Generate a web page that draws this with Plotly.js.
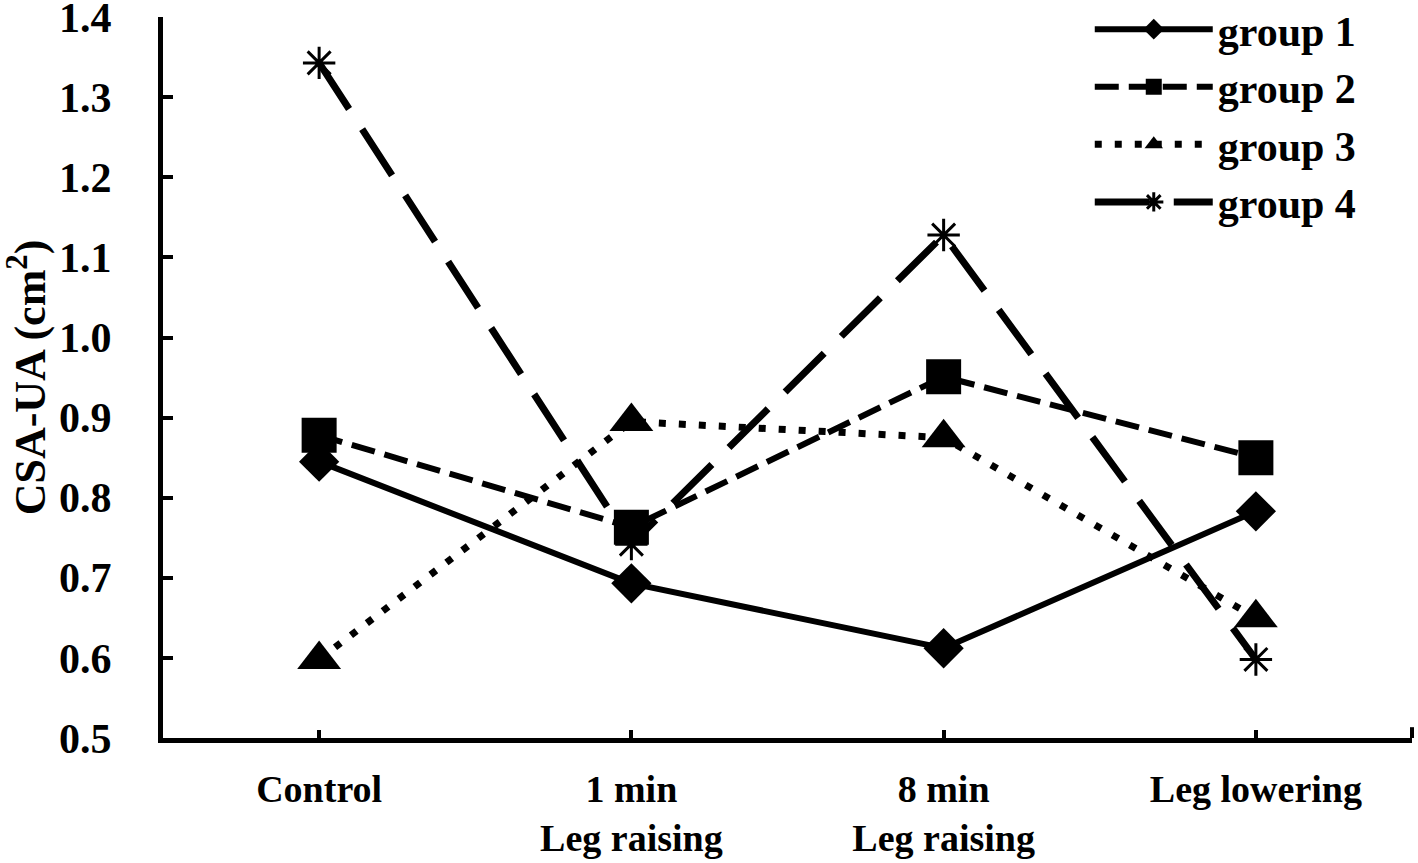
<!DOCTYPE html>
<html>
<head>
<meta charset="utf-8">
<script src="https://cdn.plot.ly/plotly-3.0.1.min.js"></script>
<style>html,body{margin:0;padding:0;background:#fff;}#chart{width:1418px;height:863px;}</style>
</head>
<body>
<div id="chart"></div>
<script>
const categories = ["Control", "1 min<br>Leg raising", "8 min<br>Leg raising", "Leg lowering"];
const seriesNames = ["group 1", "group 2", "group 3", "group 4"];
const group1 = [0.845, 0.693, 0.612, 0.783];
const group2 = [0.878, 0.763, 0.951, 0.850];
const group3 = [0.598, 0.895, 0.875, 0.650];
const group4 = [1.343, 0.742, 1.128, 0.598];
const yTicks = [0.5, 0.6, 0.7, 0.8, 0.9, 1.0, 1.1, 1.2, 1.3, 1.4];
const yTickText = ["0.5","0.6","0.7","0.8","0.9","1.0","1.1","1.2","1.3","1.4"];

const FONT = "Liberation Serif, Times New Roman, serif";

const traces = [
  {x: categories, y: group1, name: seriesNames[0], mode: "lines+markers",
   line: {color: "#000", width: 6, dash: "solid"},
   marker: {symbol: "diamond", size: 31, color: "#000"}},
  {x: categories, y: group2, name: seriesNames[1], mode: "lines+markers",
   line: {color: "#000", width: 6, dash: "24px,10px"},
   marker: {symbol: "square", size: 35, color: "#000"}},
  {x: categories, y: group3, name: seriesNames[2], mode: "lines+markers",
   line: {color: "#000", width: 7, dash: "7px,13px"},
   marker: {symbol: "triangle-up", size: 38, color: "#000"}},
  {x: categories, y: group4, name: seriesNames[3], mode: "lines+markers",
   line: {color: "#000", width: 7, dash: "55px,24px"},
   marker: {symbol: "asterisk-open", size: 27, color: "#000", line: {color: "#000", width: 3}}}
];

const layout = {
  width: 1418, height: 863,
  margin: {l: 163, r: 6, t: 17, b: 125, autoexpand: false},
  paper_bgcolor: "#fff", plot_bgcolor: "#fff",
  font: {family: FONT, color: "#000", size: 40, weight: "bold"},
  showlegend: true,
  legend: {
    x: 0.742, y: 1.03, xanchor: "left", yanchor: "top",
    font: {family: FONT, size: 42, color: "#000", weight: "bold"},
    itemwidth: 118, tracegroupgap: 0, bgcolor: "rgba(0,0,0,0)",
    itemsizing: "trace"
  },
  xaxis: {
    type: "category", range: [-0.5, 3.5],
    showline: true, linecolor: "#000", linewidth: 5,
    ticks: "inside", ticklen: 8, tickwidth: 4, tickcolor: "#000",
    showgrid: false, zeroline: false,
    tickfont: {family: FONT, size: 38, color: "#000", weight: "bold"},
    ticklabelstandoff: 13, ticklabeloverflow: "allow"
  },
  yaxis: {
    range: [0.4999, 1.4003],
    tickvals: yTicks, ticktext: yTickText,
    showline: true, linecolor: "#000", linewidth: 5,
    ticks: "inside", ticklen: 10, tickwidth: 4, tickcolor: "#000",
    showgrid: false, zeroline: false,
    tickfont: {family: FONT, size: 42, color: "#000", weight: "bold"},
    ticklabelstandoff: 38, ticklabeloverflow: "allow",
    title: {text: "CSA-UA (cm<sup>2</sup>)", font: {family: FONT, size: 44, color: "#000", weight: "bold"}, standoff: 8}
  },
  shapes: [
    {type: "line", xref: "paper", yref: "paper", x0: 1, x1: 1, y0: 0, y1: 0.015, line: {color: "#000", width: 4}}
  ]
};

Plotly.newPlot("chart", traces, layout, {displayModeBar: false, staticPlot: true});
</script>
</body>
</html>
